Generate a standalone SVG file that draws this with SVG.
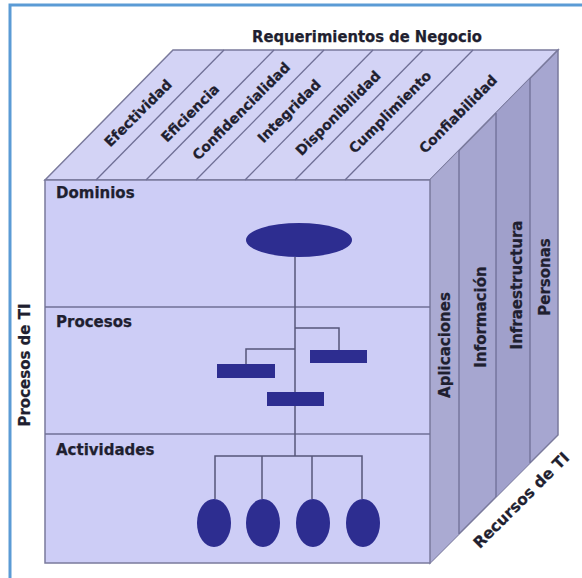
<svg xmlns="http://www.w3.org/2000/svg" width="582" height="578" viewBox="0 0 582 578">
<style>
.t{font-family:"DejaVu Sans",Verdana,sans-serif;font-weight:bold;fill:#1f1f30;stroke:#1f1f30;stroke-width:0.25}
.edge{stroke:#7a7a9c;stroke-width:1.5;fill:none}
.div{stroke:#6f6f96;stroke-width:1.3;fill:none}
.conn{stroke:#56567a;stroke-width:1.5;fill:none}
.shape{fill:#2d2d90}
</style>
<rect width="582" height="578" fill="#ffffff"/>
<path d="M10 578 V5 H582" stroke="#5b9bd5" stroke-width="3" fill="none"/>

<g id="cube">
  <polygon id="top-face" points="45,180 173,50 558,50 430,180" fill="#d3d3f5" stroke="#7a7a9c" stroke-width="1.5"/>
  <polygon id="side-face" points="430,180 558,50 558,435 430,563" fill="#a6a6d0" stroke="#7a7a9c" stroke-width="1.5"/>
  <polygon points="430,180 459,150.5 459,534 430,563" fill="#aaaad2"/>
  <polygon points="496,113 530,78.4 530,463 496,497" fill="#a0a0cb"/>
  <rect id="front-face" x="45" y="180" width="385" height="383" fill="#cdcdf6" stroke="#7a7a9c" stroke-width="1.5"/>
  <g class="div">
    <line x1="96" y1="180" x2="224" y2="50"/>
    <line x1="146" y1="180" x2="274" y2="50"/>
    <line x1="196" y1="180" x2="324" y2="50"/>
    <line x1="245" y1="180" x2="373" y2="50"/>
    <line x1="295" y1="180" x2="423" y2="50"/>
    <line x1="345" y1="180" x2="473" y2="50"/>
    <line x1="459" y1="150.5" x2="459" y2="534"/>
    <line x1="496" y1="113" x2="496" y2="497"/>
    <line x1="530" y1="78.4" x2="530" y2="463"/>
    <line x1="45" y1="307" x2="430" y2="307"/>
    <line x1="45" y1="434" x2="430" y2="434"/>
  </g>
</g>

<text id="title" class="t" x="367" y="42" font-size="15" text-anchor="middle" textLength="230" lengthAdjust="spacingAndGlyphs">Requerimientos de Negocio</text>

<g id="requirements" font-size="14">
  <text id="r1" class="t" transform="translate(138,113) rotate(-45)" text-anchor="middle" dy="0.36em">Efectividad</text>
  <text id="r2" class="t" transform="translate(190,113) rotate(-45)" text-anchor="middle" dy="0.36em">Eficiencia</text>
  <text id="r3" class="t" transform="translate(241,111) rotate(-45)" text-anchor="middle" dy="0.36em">Confidencialidad</text>
  <text id="r4" class="t" transform="translate(289,111) rotate(-45)" text-anchor="middle" dy="0.36em">Integridad</text>
  <text id="r5" class="t" transform="translate(338,113) rotate(-45)" text-anchor="middle" dy="0.36em">Disponibilidad</text>
  <text id="r6" class="t" transform="translate(390,112) rotate(-45)" text-anchor="middle" dy="0.36em">Cumplimiento</text>
  <text id="r7" class="t" transform="translate(458,114) rotate(-45)" text-anchor="middle" dy="0.36em">Confiabilidad</text>
</g>

<g id="resources" font-size="15">
  <text id="s1" class="t" transform="translate(445,345) rotate(-90)" text-anchor="middle" dy="0.36em">Aplicaciones</text>
  <text id="s2" class="t" transform="translate(481,317) rotate(-90)" text-anchor="middle" dy="0.36em">Información</text>
  <text id="s3" class="t" transform="translate(517,285) rotate(-90)" text-anchor="middle" dy="0.36em">Infraestructura</text>
  <text id="s4" class="t" transform="translate(545,277) rotate(-90)" text-anchor="middle" dy="0.36em">Personas</text>
</g>

<text id="procesos-ti" class="t" font-size="15" transform="translate(25,365) rotate(-90)" text-anchor="middle" dy="0.36em">Procesos de TI</text>
<text id="recursos-ti" class="t" font-size="15.5" transform="translate(521,500) rotate(-45)" text-anchor="middle" dy="0.36em">Recursos de TI</text>

<g id="layers" font-size="15">
  <text id="l1" class="t" x="56" y="198">Dominios</text>
  <text id="l2" class="t" x="56" y="327">Procesos</text>
  <text id="l3" class="t" x="56" y="455">Actividades</text>
</g>

<g id="connectors" class="conn">
  <line x1="295" y1="257" x2="295" y2="456"/>
  <polyline points="295,328 339,328 339,350"/>
  <polyline points="295,349 246,349 246,364"/>
  <polyline points="215,499 215,456 362,456 362,499"/>
  <line x1="262" y1="456" x2="262" y2="499"/>
  <line x1="312" y1="456" x2="312" y2="499"/>
</g>

<g id="domain"><ellipse class="shape" cx="299" cy="240" rx="53" ry="17"/></g>
<g id="process1"><rect class="shape" x="217" y="364" width="58" height="14"/></g>
<g id="process2"><rect class="shape" x="310" y="350" width="57" height="13"/></g>
<g id="process3"><rect class="shape" x="267" y="392" width="57" height="14"/></g>
<g id="activity1"><ellipse class="shape" cx="214" cy="523" rx="17" ry="24"/></g>
<g id="activity2"><ellipse class="shape" cx="263" cy="523" rx="17" ry="24"/></g>
<g id="activity3"><ellipse class="shape" cx="313" cy="523" rx="17" ry="24"/></g>
<g id="activity4"><ellipse class="shape" cx="363" cy="523" rx="17" ry="24"/></g>
</svg>
